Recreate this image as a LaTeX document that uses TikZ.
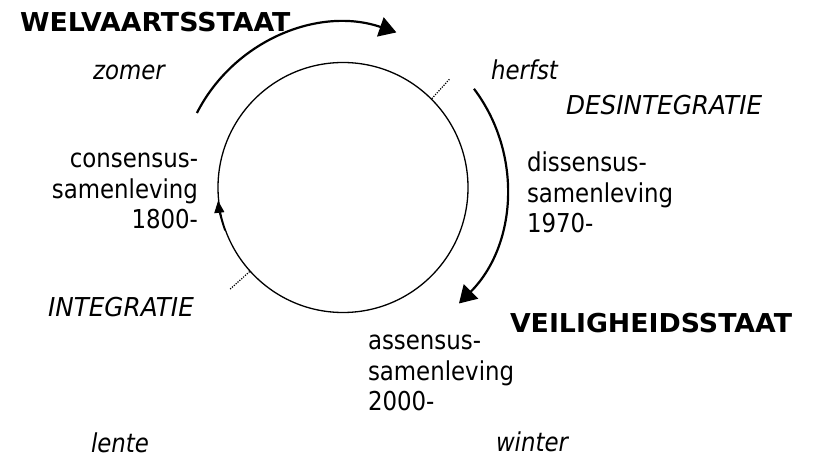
\documentclass[tikz,border=0pt]{standalone}
\usepackage{fontspec}
\setmainfont{DejaVu Sans}[FakeStretch=0.88]
\newfontfamily\regf{DejaVu Sans}[FakeStretch=0.88]
\newfontfamily\itf{DejaVu Sans}[FakeStretch=0.88]
\newfontfamily\capitf{DejaVu Sans}[FakeStretch=0.95]
\newfontfamily\boldf{DejaVu Sans}[FakeStretch=1.03]
\usetikzlibrary{calc,arrows.meta}
\begin{document}
\begin{tikzpicture}[x=1pt,y=1pt,
  lbl/.style={inner sep=0pt, outer sep=0pt},
  txt/.style={lbl, font=\regf\fontsize{26}{30.5}\selectfont},
  ital/.style={lbl, font=\itf\itshape\fontsize{26}{30}\selectfont},
  capital/.style={lbl, font=\capitf\itshape\fontsize{26}{30}\selectfont},
  staat/.style={lbl, font=\boldf\bfseries\fontsize{26}{30}\selectfont},
  cyclearrow/.style={line width=2.2pt, -{Triangle[length=17pt,width=20pt]}},
  tickline/.style={line width=1.2pt, dash pattern=on 1.2pt off 1.3pt}]
\useasboundingbox (0,0) rectangle (814,458);
\node[circle, draw, line width=1.3pt, minimum size=250pt, inner sep=0pt] (circ) at (343,270.5) {};
% outer arrows
\draw[cyclearrow] ($(circ.center)+(153:164)$) arc[start angle=153, end angle=71, radius=164];
\draw[cyclearrow] ($(circ.center)+(37:164)$) arc[start angle=37, end angle=-45, radius=164];
% small arrow on circle
\draw[line width=1.3pt, -{Triangle[length=12pt,width=10pt]}] (circ.200) arc[start angle=200, end angle=186, radius=125];
% dotted ticks
\coordinate (t1) at ($(circ.center)+(45.5:152)$);
\coordinate (t2) at ($(circ.center)+(222:152)$);
\draw[tickline] (circ.45.5) -- (t1);
\draw[tickline] (circ.222) -- (t2);
% labels
\node[staat, anchor=base west] (welv) at (20,426) {WELVAARTSSTAAT};
\node[ital, anchor=base west] (zomer) at (93,378) {zomer};
\node[ital, anchor=base west] (herfst) at (491,378) {herfst};
\node[capital, anchor=base west] (desint) at (566,343) {DESINTEGRATIE};
\node[txt, anchor=base east] (cons) at (198,290) {\begin{tabular}[t]{@{}r@{}}consensus-\\samenleving\\1800-\end{tabular}};
\node[txt, anchor=base west] (diss) at (527,286) {\begin{tabular}[t]{@{}l@{}}dissensus-\\samenleving\\1970-\end{tabular}};
\node[txt, anchor=base west] (ass) at (368,108) {\begin{tabular}[t]{@{}l@{}}assensus-\\samenleving\\2000-\end{tabular}};
\node[staat, anchor=base west] (veil) at (510,125) {VEILIGHEIDSSTAAT};
\node[capital, anchor=base west] (integr) at (48,141) {INTEGRATIE};
\node[ital, anchor=base west] (lente) at (91,6) {lente};
\node[ital, anchor=base west] (winter) at (496,7) {winter};
\end{tikzpicture}
\end{document}
